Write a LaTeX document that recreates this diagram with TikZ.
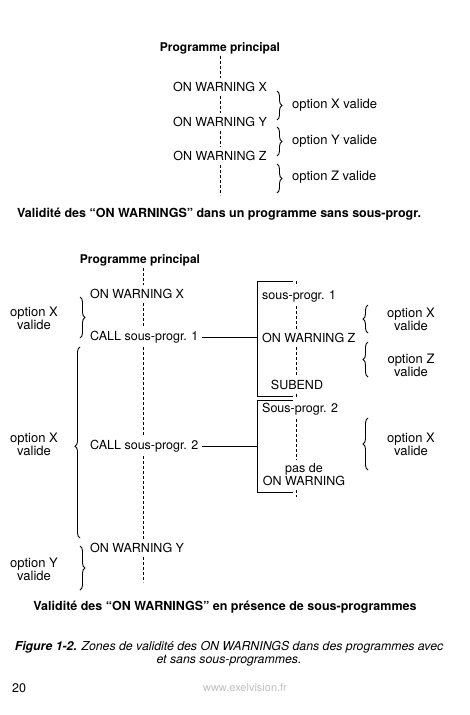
\documentclass[tikz,border=0pt]{standalone}
\usepackage{fontspec}
\setmainfont{TeX Gyre Heros}
\usetikzlibrary{decorations.pathreplacing}

\tikzset{
  txt/.style={font=\fontsize{12.5}{14}\selectfont, inner xsep=0pt, inner ysep=4pt},
  ttl/.style={font=\fontsize{12}{14}\selectfont\bfseries, inner sep=2pt},
  captxt/.style={font=\fontsize{12.5}{14}\selectfont\bfseries, inner sep=0pt},
  opt/.style={font=\fontsize{13}{13}\selectfont, align=center, inner sep=0pt},
  prog/.style={dash pattern=on 3pt off 2pt, line width=0.5pt},
  brc/.style={decorate, decoration={brace, amplitude=5pt}, line width=0.9pt},
  conn/.style={line width=0.8pt}
}

\begin{document}
\begin{tikzpicture}[x=1pt, y=-1pt]
  \useasboundingbox (0,0) rectangle (470,715);

  \node[ttl] (pp1) at (220,48) {Programme principal};
  \node[txt] (wx1) at (220,87) {ON WARNING X};
  \node[txt] (wy1) at (220,122) {ON WARNING Y};
  \node[txt] (wz1) at (220,156) {ON WARNING Z};
  \coordinate (e1) at (220,195);
  \draw[prog] (pp1.south) -- (wx1.north);
  \draw[prog] (wx1.south) -- (wy1.north);
  \draw[prog] (wy1.south) -- (wz1.north);
  \draw[prog] (wz1.south) -- (e1);

  \node[opt, anchor=west] (ox1) at (292,105) {option X valide};
  \node[opt, anchor=west] (oy1) at (292,141) {option Y valide};
  \node[opt, anchor=west] (oz1) at (292,177) {option Z valide};
  \draw[brc] (277,91) -- (277,120);
  \draw[brc] (277,127) -- (277,156);
  \draw[brc] (277,164) -- (277,193);

  \node[captxt, anchor=west] (cap1) at (17,214) {Validité des “ON WARNINGS” dans un programme sans sous-progr.};

  \node[ttl] (pp2) at (140,260) {Programme principal};
  \coordinate (e2) at (143,582);
  \node[txt, anchor=west] (wx2) at (90,294) {ON WARNING X};
  \node[txt, anchor=west] (c1) at (90,337) {CALL sous-progr. 1};
  \node[txt, anchor=west] (c2) at (90,446) {CALL sous-progr. 2};
  \node[txt, anchor=west] (wy2) at (90,548) {ON WARNING Y};
  \draw[prog] (pp2.south -| e2) -- (wx2.north -| e2);
  \draw[prog] (wx2.south -| e2) -- (c1.north -| e2);
  \draw[prog] (c1.south -| e2) -- (c2.north -| e2);
  \draw[prog] (c2.south -| e2) -- (wy2.north -| e2);
  \draw[prog] (wy2.south -| e2) -- (e2);

  \node[opt] (lx1) at (34,318) {option X\\valide};
  \node[opt] (lx2) at (34,444) {option X\\valide};
  \node[opt] (ly1) at (34,569) {option Y\\valide};
  \draw[brc] (80,297) -- (80,338);
  \draw[brc, decoration={aspect=0.48}] (80,538) -- (80,347);
  \draw[brc] (80,546) -- (80,590);

  \coordinate (b1a) at (293,281);
  \coordinate (b1b) at (293,396);
  \coordinate (b2a) at (293,400);
  \coordinate (b2b) at (293,492);
  \coordinate (j1) at (257,337);
  \coordinate (j2) at (257,446);
  \coordinate (sx) at (296,281);
  \draw[conn] (b1a) -- (257,281) -- (257,396) -- (b1b);
  \draw[conn] (b2a) -- (257,400) -- (257,492) -- (b2b);
  \node[txt, anchor=west] (s1) at (262,296) {sous-progr. 1};
  \node[txt, anchor=west] (wz2) at (262,338) {ON WARNING Z};
  \node[txt] (se) at (297,385) {SUBEND};
  \node[txt, anchor=west] (s2) at (262,409) {Sous-progr. 2};
  \node[txt, align=center, font=\fontsize{12.5}{12}\selectfont] (pd) at (304,475) {pas de\\ON WARNING};
  \draw[prog] (sx) -- (s1.north -| sx);
  \draw[prog] (s1.south -| sx) -- (wz2.north -| sx);
  \draw[prog] (wz2.south -| sx) -- (se.north -| sx);
  \draw[prog] (se.south -| sx) -- (s2.north -| sx);
  \draw[prog] (s2.south -| sx) -- (pd.north -| sx);
  \draw[prog] (pd.south -| sx) -- (296,497);

  \draw[conn] (c1.east) ++(3,0) -- (j1);
  \draw[conn] (c2.east) ++(3,0) -- (j2);

  \node[opt] (rx1) at (411,319) {option X\\valide};
  \node[opt] (rz1) at (411,365) {option Z\\valide};
  \node[opt] (rx2) at (411,444) {option X\\valide};
  \draw[brc] (368,333) -- (368,305);
  \draw[brc] (368,377) -- (368,342);
  \draw[brc] (368,470) -- (368,418);

  \node[captxt] (cap2) at (225,607) {Validité des “ON WARNINGS” en présence de sous-programmes};
  \node[font=\fontsize{12.3}{13}\selectfont\itshape, align=center, inner sep=0pt] (fig) at (229,654)
    {{\bfseries Figure 1-2.} Zones de validité des ON WARNINGS dans des programmes avec\\et sans sous-programmes.};
  \node[font=\fontsize{12.5}{14}\selectfont, anchor=west, inner sep=0pt] (pg) at (12,688) {20};
  \node[font=\fontsize{11}{13}\selectfont, text=black!25, inner sep=0pt] (url) at (245,688) {www.exelvision.fr};
\end{tikzpicture}
\end{document}
